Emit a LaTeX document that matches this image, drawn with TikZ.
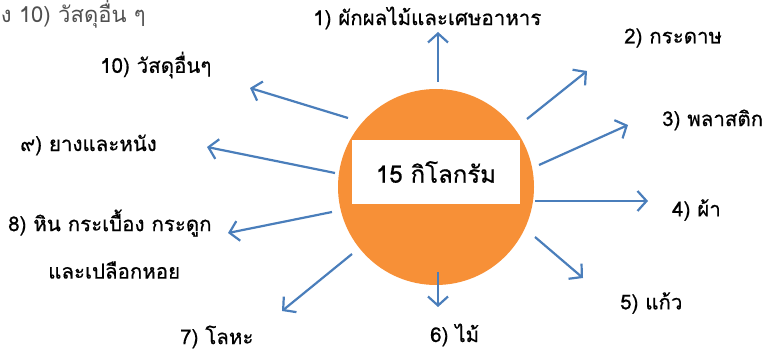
\documentclass[tikz,border=0pt]{standalone}
\usepackage{fontspec}
\newfontfamily\thaifont[Script=Thai]{Loma}
\newfontfamily\thaibold[Script=Thai,FakeBold=0.6]{Loma}
\usetikzlibrary{arrows.meta}
\definecolor{orng}{HTML}{F79037}
\definecolor{arrblue}{HTML}{4A7EBB}
\definecolor{greytxt}{HTML}{505050}
\tikzset{
  lbl/.style={anchor=west, inner sep=0pt, font=\thaibold\fontsize{20.5}{24}\selectfont},
  arr/.style={draw=arrblue, line width=2.2pt, -{Straight Barb[length=9pt,width=20pt,line width=2.2pt]}},
}
\begin{document}
\begin{tikzpicture}[x=1pt,y=-1pt]
\useasboundingbox (0,0) rectangle (771,355);
\clip (0,0) rectangle (771,355);
\node[anchor=east, inner sep=0pt, text=greytxt, font=\thaifont\fontsize{22}{25}\selectfont] (top) at (146,14) {ง 10) วัสดุอื่น ๆ};
\node[circle, fill=orng, minimum size=196pt, inner sep=0pt] (c) at (436,187) {};
\node[fill=white, minimum width=168pt, minimum height=64pt, inner sep=0pt, font=\thaibold\fontsize{24}{28}\selectfont] (box) at (436,172) {15 กิโลกรัม};
\coordinate (t1) at (438,82);  \coordinate (h1) at (438,32);
\coordinate (t2) at (527,119); \coordinate (h2) at (587,71);
\coordinate (t3) at (539,165); \coordinate (h3) at (628,125);
\coordinate (t4) at (535,201); \coordinate (h4) at (648,201);
\coordinate (t5) at (535,237); \coordinate (h5) at (583,278);
\coordinate (t6) at (438,272); \coordinate (h6) at (438,307);
\coordinate (t7) at (352,254); \coordinate (h7) at (282,311);
\coordinate (t8) at (332,212); \coordinate (h8) at (228,233);
\coordinate (t9) at (335,173); \coordinate (h9) at (207,147);
\coordinate (t10) at (348,118); \coordinate (h10) at (250,88);
\foreach \i in {1,...,10} { \draw[arr] (t\i) -- (h\i); }
\node[lbl] (l1) at (313,18) {1) ผักผลไม้และเศษอาหาร};
\node[lbl] (l2) at (624,38) {2) กระดาษ};
\node[lbl] (l3) at (662,120) {3) พลาสติก};
\node[lbl] (l4) at (672,210) {4) ผ้า};
\node[lbl] (l5) at (620,303) {5) แก้ว};
\node[lbl] (l6) at (430,335) {6) ไม้};
\node[lbl] (l7) at (180,337) {7) โลหะ};
\node[lbl] (l8) at (8,223) {8) หิน กระเบื้อง กระดูก};
\node[lbl] (l8b) at (48,270) {และเปลือกหอย};
\node[lbl] (l9) at (20,145) {๙) ยางและหนัง};
\node[lbl] (l10) at (100,65) {10) วัสดุอื่นๆ};
\end{tikzpicture}
\end{document}
